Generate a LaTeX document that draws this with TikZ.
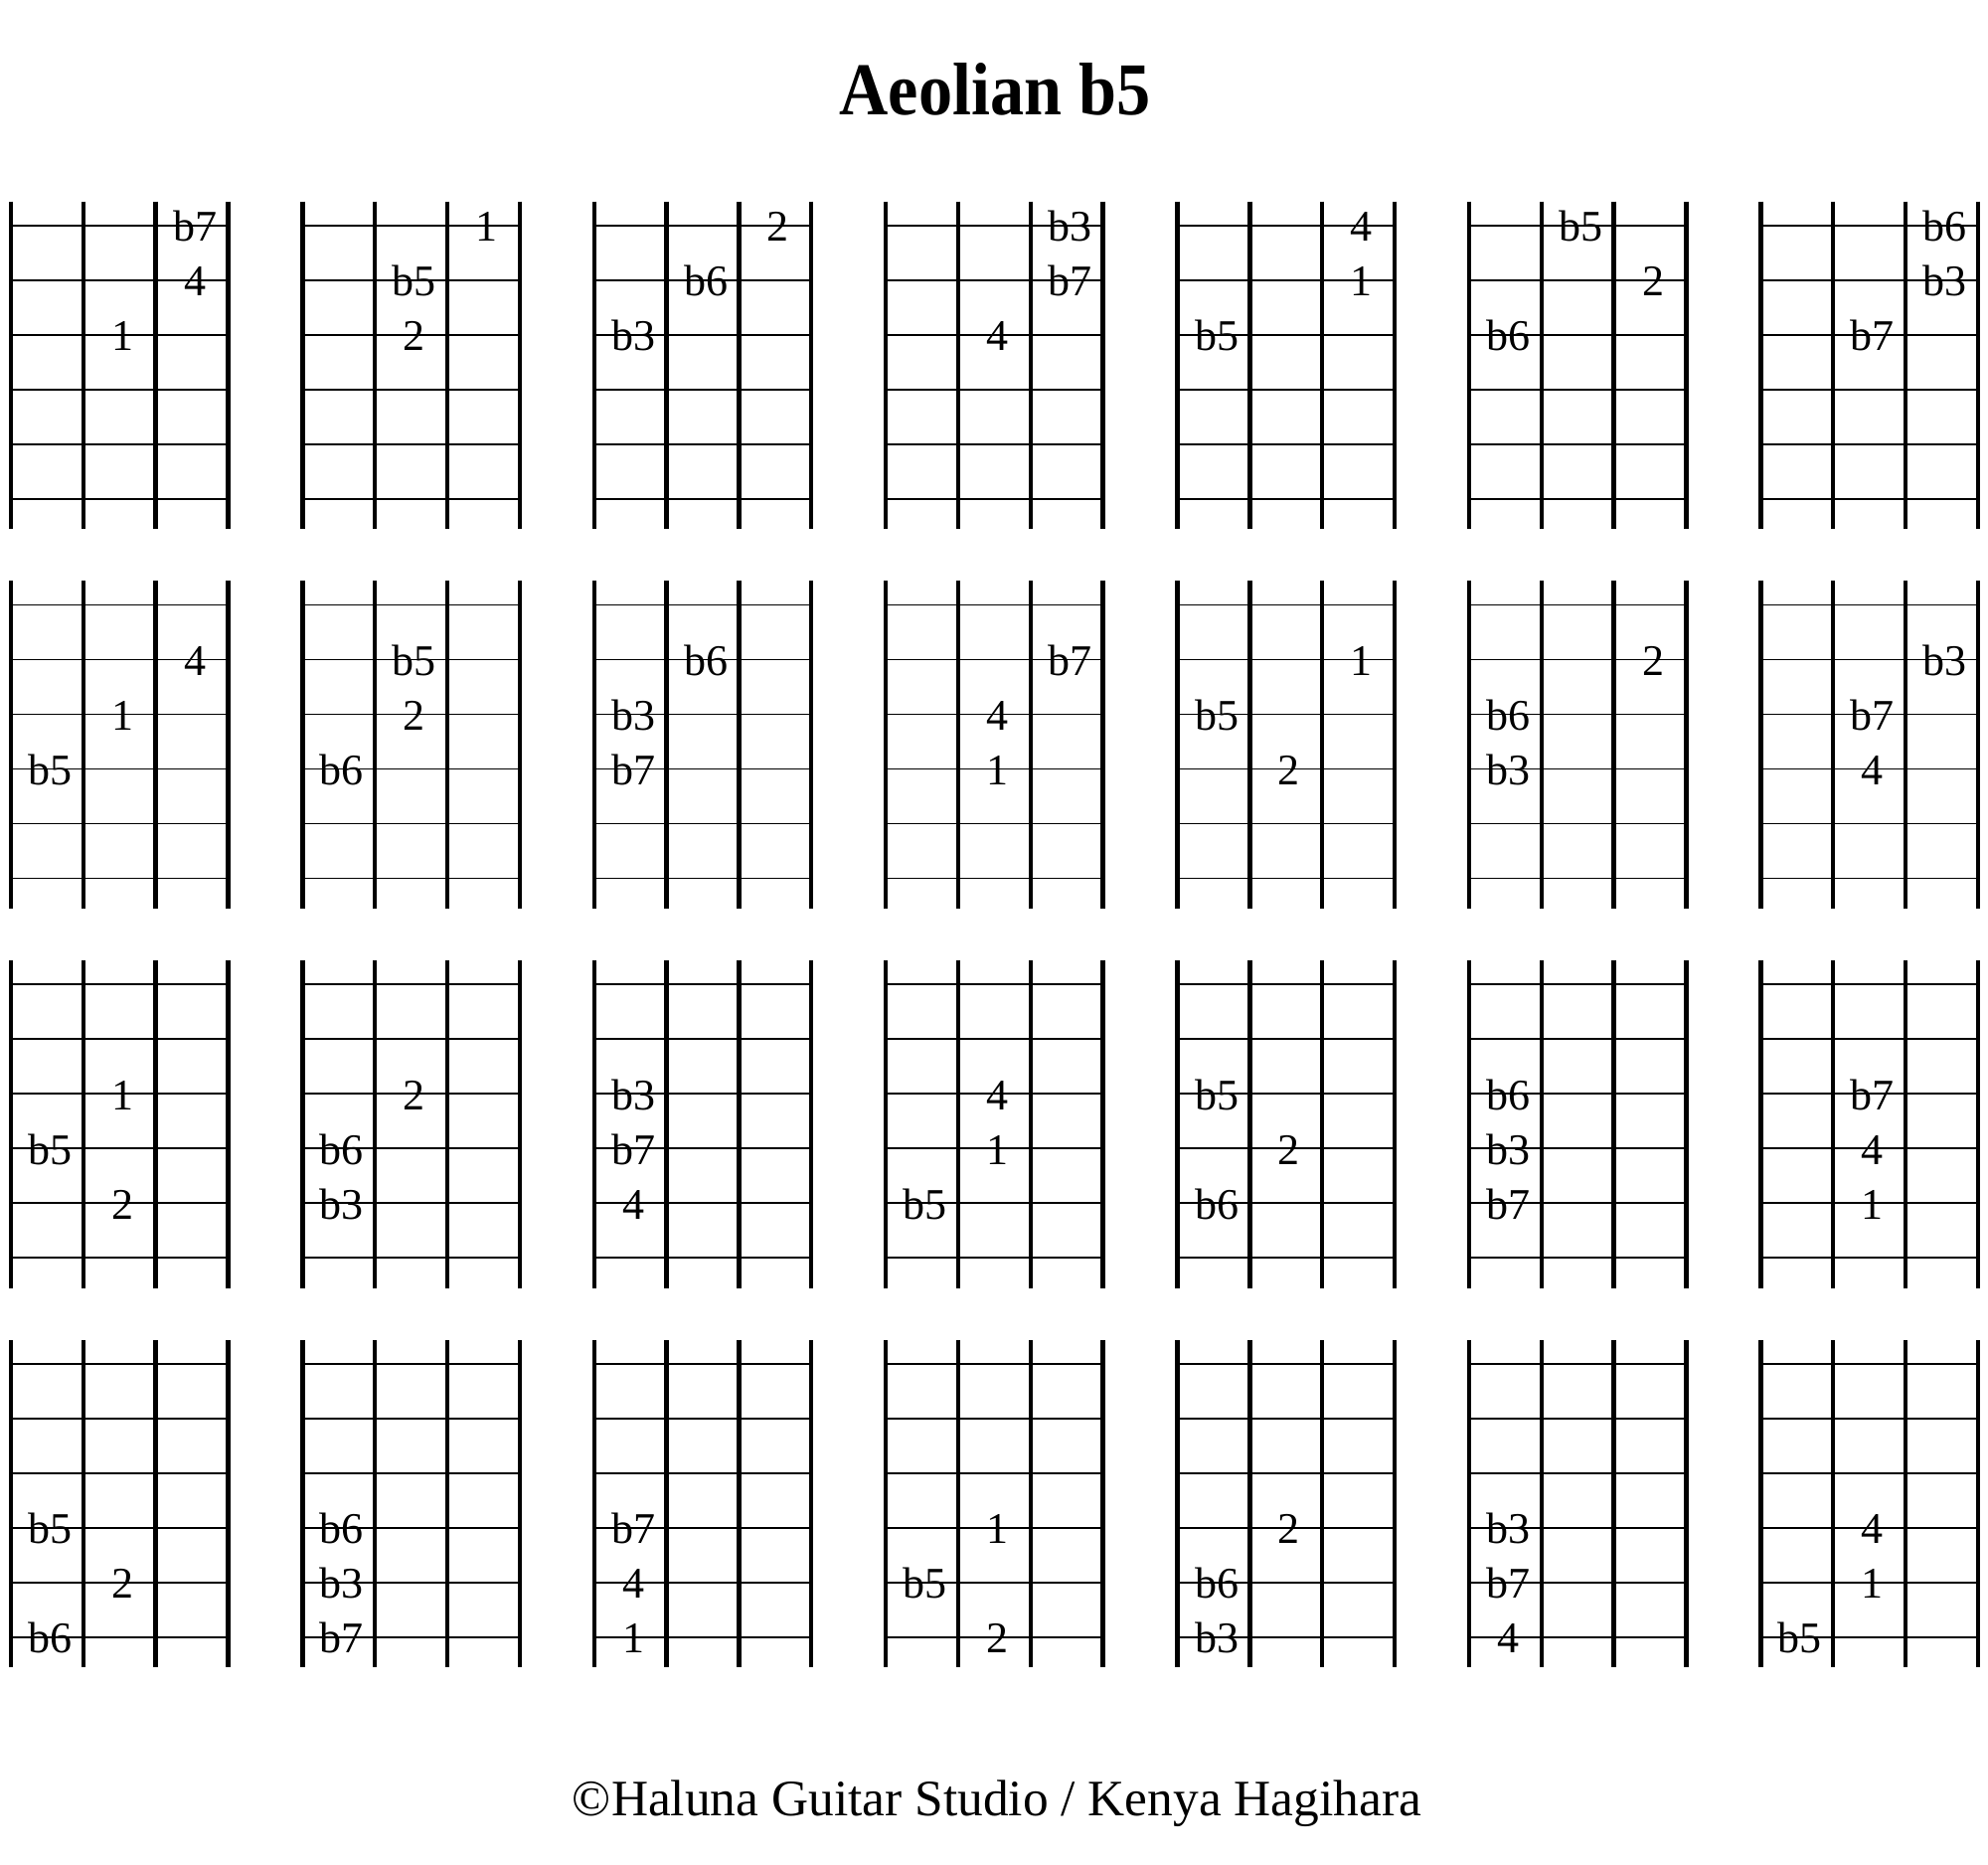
\documentclass[tikz,border=0pt]{standalone}
\usepackage{fontspec}
\setmainfont{Liberation Serif}
\newfontfamily\titlefont[FakeStretch=0.91]{Liberation Serif}
\usepackage{tikz}

\begin{document}
\begin{tikzpicture}[x=0.5pt, y=-0.5pt,
                fret line/.style={line width=2.15pt},
                string line/.style={line width=0.9pt},
                note/.style={anchor=base, inner sep=0pt, xshift=1.5pt, font=\fontsize{22}{26}\selectfont}]

                \useasboundingbox (0,0) rectangle (2000,1875);

                % Title
                \node[anchor=base, font=\titlefont\bfseries\fontsize{37.5}{40}\selectfont]
                    (title) at (1001,115) {Aeolian b5};

                % Fretboard grids: 4 rows of 7 boxes
                \foreach \r in {0,...,3}
                    \foreach \c in {0,...,6} {
                        \foreach \s in {0,...,5}
                            \draw[string line] ({11+293.4*\c}, {226.7+381.7*\r+55*\s}) -- ++(218.4,0);
                        \foreach \f in {0,...,3}
                            \draw[fret line] ({11+293.4*\c+72.8*\f}, {202.7+381.7*\r}) -- ++(0,329.6);
                    }

                % Row 1 (label/string/fret)
                \foreach \c/\notes in {0/{b7/1/3,4/2/3,1/3/2}, 1/{1/1/3,b5/2/2,2/3/2},
                        2/{2/1/3,b6/2/2,b3/3/1}, 3/{b3/1/3,b7/2/3,4/3/2}, 4/{4/1/3,1/2/3,b5/3/1},
                        5/{b5/1/2,2/2/3,b6/3/1}, 6/{b6/1/3,b3/2/3,b7/3/2}}
                    \foreach \lbl/\sn/\fn in \notes
                        \node[note] (n-1-\c-\sn) at ({11+293.4*\c+72.8*(\fn-0.5)}, {242.7+55*(\sn-1)}) {\lbl};

                % Row 2
                \foreach \c/\notes in {0/{4/2/3,1/3/2,b5/4/1}, 1/{b5/2/2,2/3/2,b6/4/1},
                        2/{b6/2/2,b3/3/1,b7/4/1}, 3/{b7/2/3,4/3/2,1/4/2}, 4/{1/2/3,b5/3/1,2/4/2},
                        5/{2/2/3,b6/3/1,b3/4/1}, 6/{b3/2/3,b7/3/2,4/4/2}}
                    \foreach \lbl/\sn/\fn in \notes
                        \node[note] (n-2-\c-\sn) at ({11+293.4*\c+72.8*(\fn-0.5)}, {624.4+55*(\sn-1)}) {\lbl};

                % Row 3
                \foreach \c/\notes in {0/{1/3/2,b5/4/1,2/5/2}, 1/{2/3/2,b6/4/1,b3/5/1},
                        2/{b3/3/1,b7/4/1,4/5/1}, 3/{4/3/2,1/4/2,b5/5/1}, 4/{b5/3/1,2/4/2,b6/5/1},
                        5/{b6/3/1,b3/4/1,b7/5/1}, 6/{b7/3/2,4/4/2,1/5/2}}
                    \foreach \lbl/\sn/\fn in \notes
                        \node[note] (n-3-\c-\sn) at ({11+293.4*\c+72.8*(\fn-0.5)}, {1006.1+55*(\sn-1)}) {\lbl};

                % Row 4
                \foreach \c/\notes in {0/{b5/4/1,2/5/2,b6/6/1}, 1/{b6/4/1,b3/5/1,b7/6/1},
                        2/{b7/4/1,4/5/1,1/6/1}, 3/{1/4/2,b5/5/1,2/6/2}, 4/{2/4/2,b6/5/1,b3/6/1},
                        5/{b3/4/1,b7/5/1,4/6/1}, 6/{4/4/2,1/5/2,b5/6/1}}
                    \foreach \lbl/\sn/\fn in \notes
                        \node[note] (n-4-\c-\sn) at ({11+293.4*\c+72.8*(\fn-0.5)}, {1387.8+55*(\sn-1)}) {\lbl};

                % Credit line
                \node[anchor=base, font=\fontsize{25.7}{30}\selectfont]
                    (credit) at (1003,1826.7) {©Haluna Guitar Studio / Kenya Hagihara};
\end{tikzpicture}
\end{document}
